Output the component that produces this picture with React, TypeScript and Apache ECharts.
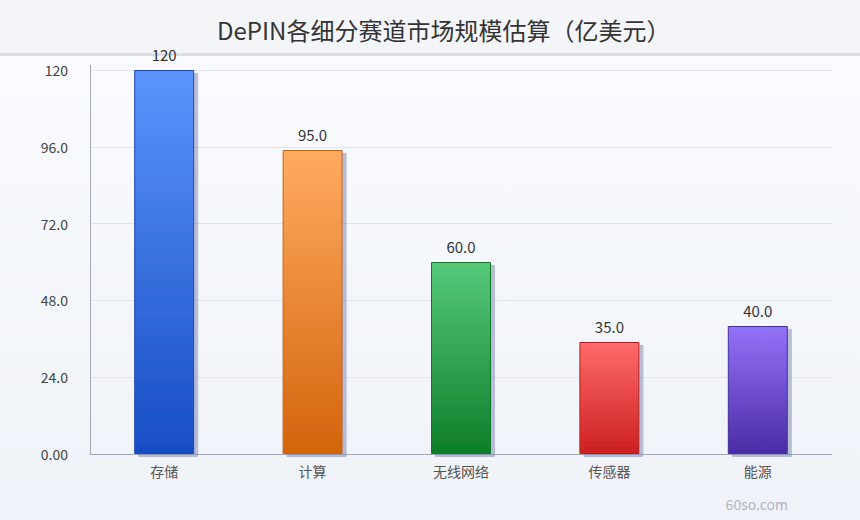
import React, { useEffect, useRef } from "react";
import * as echarts from "echarts";

const TITLE = "DePIN各细分赛道市场规模估算（亿美元）";
const categories = ["存储", "计算", "无线网络", "传感器", "能源"];
const values = [120, 95, 60, 35, 40];
const topColors = ["#5b94fc", "#ffab60", "#56c97a", "#ff6a6a", "#9472f8"];
const bottomColors = ["#184dc4", "#d3640c", "#0e7e29", "#cc2020", "#4a2ca6"];
const borderColors = ["#1d48ad", "#c0651c", "#16732d", "#b11f1f", "#44309a"];
const yMax = 120;
const yInterval = 24;
const WATERMARK = "60so.com";

const FONT = "'Noto Sans CJK SC', 'Noto Sans', sans-serif";

export default function App() {
  const ref = useRef<HTMLDivElement>(null);
  useEffect(() => {
    document.body.style.margin = "0";
    if (!ref.current) return;
    const chart = echarts.init(ref.current, undefined, { renderer: "svg" });
    const data = values.map((v, i) => ({
      value: v,
      itemStyle: {
        color: new echarts.graphic.LinearGradient(0, 0, 0, 1, [
          { offset: 0, color: topColors[i] },
          { offset: 1, color: bottomColors[i] },
        ]),
        borderColor: borderColors[i],
        borderWidth: 1,
        shadowColor: "rgba(110,120,160,0.45)",
        shadowOffsetX: 4,
        shadowOffsetY: 3,
        shadowBlur: 0,
      },
    }));
    chart.setOption({
      animation: false,
      textStyle: { fontFamily: FONT },
      title: {
        text: TITLE,
        left: 212,
        top: 12,
        textStyle: { fontSize: 24, fontWeight: "normal", color: "#333", fontFamily: FONT },
      },
      grid: { left: 90, right: 28, top: 70, bottom: 66 },
      xAxis: {
        type: "category",
        data: categories,
        axisLine: { show: true, lineStyle: { color: "#a3a8b6", width: 1 } },
        axisTick: { show: false },
        axisLabel: { color: "#555", fontSize: 14, margin: 10, fontFamily: FONT },
      },
      yAxis: {
        type: "value",
        min: 0,
        max: yMax,
        interval: yInterval,
        axisLine: { show: false },
        axisTick: { show: false },
        splitLine: { lineStyle: { color: "#e1e4ec", width: 1 } },
        axisLabel: {
          color: "#444",
          fontSize: 14,
          margin: 22,
          fontFamily: FONT,
          formatter: (v: number) => v.toPrecision(3),
        },
      },
      series: [
        {
          type: "bar",
          data,
          barWidth: 60,
          label: {
            show: true,
            position: "top",
            distance: 8,
            fontSize: 15,
            color: "#333",
            fontFamily: FONT,
            formatter: (p: any) => Number(p.value).toPrecision(3),
          },
        },
      ],
      graphic: [
        {
          type: "line",
          shape: { x1: 90.5, y1: 65, x2: 90.5, y2: 454 },
          style: { stroke: "#a3a8b6", lineWidth: 1 },
          z: 5,
        },
        {
          type: "text",
          right: 72,
          bottom: 9,
          style: { text: WATERMARK, fill: "#b0b4c2", fontSize: 14, fontFamily: FONT },
        },
      ],
    });
    return () => chart.dispose();
  }, []);
  return (
    <div
      ref={ref}
      style={{
        width: 860,
        height: 520,
        background:
          "linear-gradient(to bottom, #f4f5f9 0px, #f4f5f9 53px, #dcdfe8 53px, #dcdfe8 56px, #f9fbfe 56px, #eff2f8 520px)",
      }}
    />
  );
}
